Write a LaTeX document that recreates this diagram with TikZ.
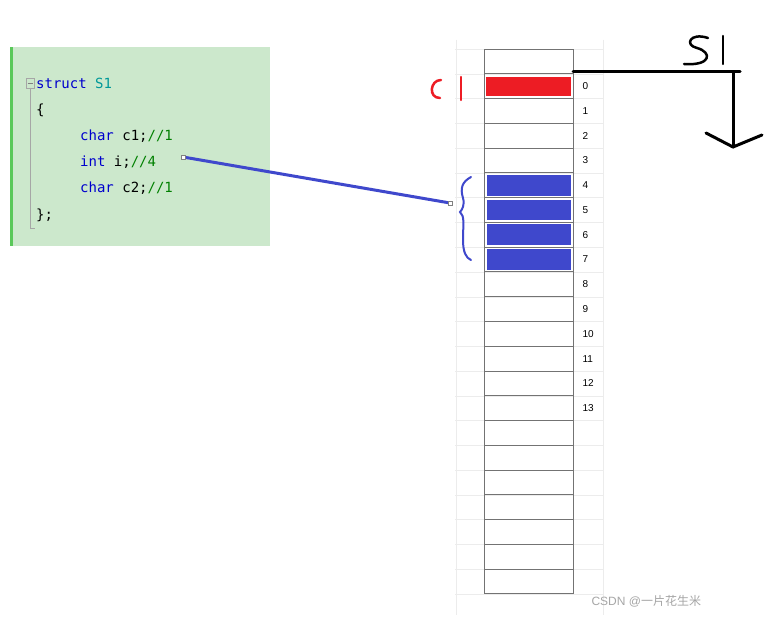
\documentclass[tikz,border=0pt]{standalone}
\usepackage{fontspec}
\setmainfont{Liberation Sans}
\newfontfamily\cjk{Noto Sans CJK SC}
\newfontfamily\mono{DejaVu Sans Mono}
\definecolor{codebg}{RGB}{204,232,204}
\definecolor{stripe}{RGB}{90,200,90}
\definecolor{myred}{RGB}{237,28,36}
\definecolor{myblue}{RGB}{63,72,204}
\begin{document}
\begin{tikzpicture}[x=1pt,y=-1pt,
  cell/.style={draw=gray!90!black,line width=0.9pt},
  num/.style={anchor=west,font=\fontsize{10}{12}\selectfont},
  code/.style={anchor=west,font=\mono\fontsize{14}{16}\selectfont,inner sep=0},
  hand/.style={line width=3pt,line cap=round,line join=round}]
\useasboundingbox (0,0) rectangle (776,620);
\fill[white] (0,0) rectangle (776,620);
% code box
\fill[codebg] (12,47) rectangle (270,246);
\fill[stripe] (10,47) rectangle (13,246);
\draw[gray!70] (26,78) rectangle (34,88); \draw[gray] (27.5,83)--(32.5,83);
\draw[gray!70] (30,88)--(30,228)--(35,228);
\node[code] (l1) at (36,83) {\textcolor{blue!80!black}{struct} \textcolor{teal!80!cyan}{S1}};
\node[code] (l2) at (36,110) {\{};
\node[code] (l3) at (80,136) {\textcolor{blue!80!black}{char} c1;\textcolor{green!50!black}{//1}};
\node[code] (l4) at (80,162) {\textcolor{blue!80!black}{int} i;\textcolor{green!50!black}{//4}};
\node[code] (l5) at (80,188) {\textcolor{blue!80!black}{char} c2;\textcolor{green!50!black}{//1}};
\node[code] (l6) at (36,215) {\};};
% grid
\foreach \i in {0,...,22}{\draw[gray!15] (455,{49+\i*24.77})--(603,{49+\i*24.77});}
\draw[gray!15] (456,40)--(456,615); \draw[gray!15] (603,40)--(603,615);
\foreach \i in {0,...,21}{\draw[cell] (484,{49+\i*24.77}) rectangle (573,{49+(\i+1)*24.77});}
\fill[myred] (486,77) rectangle (571,96);
\foreach \i in {5,...,8}{\fill[myblue] (487,{49+\i*24.77+2}) rectangle (571,{49+(\i+1)*24.77-2});}
\foreach \i in {0,...,13}{\node[num] (n\i) at (579,{49+(\i+1.5)*24.77}) {\i};}
% pointer
\coordinate (p) at (183,157); \coordinate (q) at (450,203);
\draw[myblue,line width=3pt] (p)--(q);
\draw[gray,fill=white] (181,155) rectangle (185,159);
\draw[gray,fill=white] (448,201) rectangle (452,205);
\draw[myblue,line width=2pt,line cap=round]
 (471,177) .. controls (462,182) and (460,188) .. (463,198) .. controls (465,205) and (462,210) .. (460,212)
 .. controls (465,216) and (463,225) .. (463,240) .. controls (463,252) and (466,258) .. (471,260);
% C1
\draw[myred,line width=2.5pt,line cap=round] (441,80) .. controls (430,80) and (428,98) .. (440,98);
\draw[myred,line width=2.5pt,line cap=round] (461,77)--(461,100);
% S1
\coordinate (a) at (573,72); \coordinate (b) at (740,72); \coordinate (c) at (733,72); \coordinate (d) at (733,147);
\draw[hand] (a)--(b);
\draw[hand] (c)--(d);
\draw[hand] (706,133)--(733,147)--(762,135);
\draw[hand,line width=2.5pt] (708,38) .. controls (690,32) and (684,45) .. (697,48) .. controls (712,52) and (712,66) .. (684,64);
\draw[hand,line width=2.5pt] (723,36)--(723,64);
% watermark
\node[anchor=west,text=gray!70,font=\fontsize{12}{14}\selectfont] (wm) at (588,601) {CSDN @{\cjk 一片花生米}};
\end{tikzpicture}
\end{document}
